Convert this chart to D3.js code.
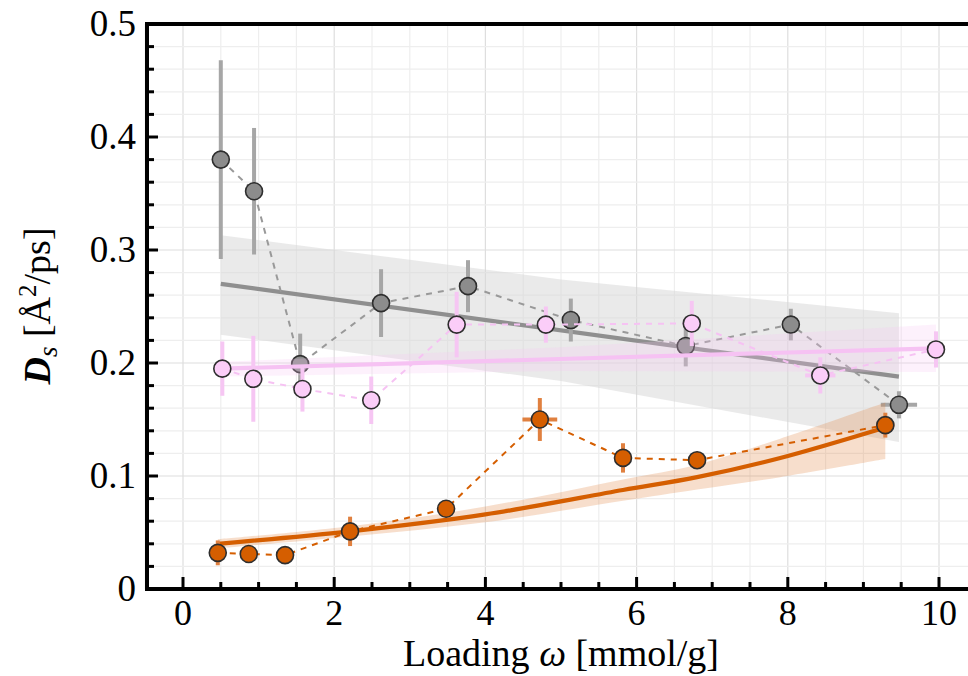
<!DOCTYPE html>
<html>
<head>
<meta charset="utf-8">
<script src="https://cdn.jsdelivr.net/npm/d3@7/dist/d3.min.js"></script>
<style>
  html, body { margin: 0; padding: 0; background: #fff; }
  svg { display: block; }
  text { font-family: "Liberation Serif", "DejaVu Serif", serif; fill: #000; }
</style>
</head>
<body>
<svg id="chart" width="968" height="676"></svg>
<script>
// ---------- data ----------
const xTicks = [0, 2, 4, 6, 8, 10];
const yTicks = [0, 0.1, 0.2, 0.3, 0.4, 0.5];
const yTickLabels = ["0", "0.1", "0.2", "0.3", "0.4", "0.5"];

// gray series
const grayX    = [0.50, 0.94, 1.55, 2.62, 3.77, 5.13, 6.65, 8.04, 9.47];
const grayY    = [0.380, 0.352, 0.199, 0.253, 0.268, 0.238, 0.215, 0.234, 0.163];
const grayYErr = [0.088, 0.056, 0.027, 0.030, 0.023, 0.019, 0.018, 0.014, 0.012];
const grayXErr = [0, 0, 0, 0, 0, 0, 0, 0, 0.24];
const grayFitX = [0.50, 9.47];
const grayFitY = [0.270, 0.188];
const grayBandX = [0.50, 5.0, 9.47];
const grayBandUpper = [0.313, 0.274, 0.244];
const grayBandLower = [0.225, 0.184, 0.130];

// pink series
const pinkX    = [0.52, 0.93, 1.58, 2.49, 3.62, 4.80, 6.73, 8.43, 9.96];
const pinkY    = [0.195, 0.186, 0.177, 0.167, 0.234, 0.234, 0.235, 0.189, 0.212];
const pinkYErr = [0.024, 0.038, 0.020, 0.021, 0.029, 0.016, 0.020, 0.016, 0.016];
const pinkXErr = [0, 0, 0, 0, 0, 0, 0, 0.20, 0];
const pinkFitX = [0.52, 9.96];
const pinkFitY = [0.195, 0.213];
const pinkBandX = [0.52, 5.0, 9.96];
const pinkBandUpper = [0.201, 0.214, 0.234];
const pinkBandLower = [0.188, 0.193, 0.192];

// orange series
const orangeX    = [0.46, 0.87, 1.35, 2.21, 3.48, 4.72, 5.82, 6.80, 9.29];
const orangeY    = [0.032, 0.031, 0.030, 0.051, 0.071, 0.150, 0.116, 0.114, 0.145];
const orangeYErr = [0.011, 0.008, 0.005, 0.013, 0.006, 0.019, 0.013, 0.007, 0.011];
const orangeXErr = [0, 0, 0, 0, 0, 0.23, 0, 0, 0.12];
const orangeFitX = [0.46, 2.21, 4.0, 5.82, 6.8, 7.9, 9.29];
const orangeFitY = [0.040, 0.051, 0.066, 0.0876, 0.099, 0.116, 0.143];
const orangeBandUpper = [0.044, 0.0555, 0.073, 0.097, 0.110, 0.133, 0.165];
const orangeBandLower = [0.036, 0.0465, 0.059, 0.078, 0.088, 0.099, 0.115];

// ---------- layout ----------
const svg = d3.select("#chart");
const x = d3.scaleLinear().domain([0, 10]).range([183, 939]);
const y = d3.scaleLinear().domain([0, 0.5]).range([589, 24]);
const pLeft = 147, pRight = 980, pTop = 24, pBottom = 589;

svg.append("defs").append("clipPath").attr("id", "clip")
  .append("rect").attr("x", pLeft).attr("y", pTop).attr("width", pRight - pLeft).attr("height", pBottom - pTop);

// grid
const grid = svg.append("g");
const xMinor = d3.range(-0.5, 10.51, 0.5);
const yMinor = d3.range(0, 0.501, 0.02);
grid.selectAll(".vx").data(xMinor).join("line")
  .attr("x1", d => x(d)).attr("x2", d => x(d)).attr("y1", pTop).attr("y2", pBottom)
  .attr("stroke", d => (Math.abs(d / 2 - Math.round(d / 2)) < 1e-6) ? "#dedede" : "#eeeeee")
  .attr("stroke-width", 1.2);
grid.selectAll(".hy").data(yMinor).join("line")
  .attr("x1", pLeft).attr("x2", pRight).attr("y1", d => y(d)).attr("y2", d => y(d))
  .attr("stroke", d => (Math.abs(d * 10 - Math.round(d * 10)) < 1e-6) ? "#dedede" : "#eeeeee")
  .attr("stroke-width", 1.2);

const plot = svg.append("g").attr("clip-path", "url(#clip)");

function drawSeries(o) {
  const g = plot.append("g");
  g.append("path")
    .datum(o.bandX.map((bx, i) => [bx, o.bandU[i], o.bandL[i]]))
    .attr("d", d3.area().x(d => x(d[0])).y0(d => y(d[2])).y1(d => y(d[1])).curve(o.curve))
    .attr("fill", o.bandColor).attr("fill-opacity", o.bandOpacity);
  g.append("path")
    .datum(o.fitX.map((fx, i) => [fx, o.fitY[i]]))
    .attr("d", d3.line().x(d => x(d[0])).y(d => y(d[1])).curve(o.curve))
    .attr("fill", "none").attr("stroke", o.fitColor).attr("stroke-width", 4.2);
  g.append("path")
    .datum(o.xs.map((v, i) => [v, o.ys[i]]))
    .attr("d", d3.line().x(d => x(d[0])).y(d => y(d[1])))
    .attr("fill", "none").attr("stroke", o.dashColor).attr("stroke-width", 2)
    .attr("stroke-dasharray", "6,6");
  const pts = o.xs.map((v, i) => ({ x: v, y: o.ys[i], ey: o.yErr[i], ex: o.xErr[i] }));
  g.selectAll(".ey").data(pts.filter(p => p.ey > 0)).join("line")
    .attr("x1", d => x(d.x)).attr("x2", d => x(d.x))
    .attr("y1", d => y(d.y - d.ey)).attr("y2", d => y(d.y + d.ey))
    .attr("stroke", o.errColor).attr("stroke-width", 4);
  g.selectAll(".ex").data(pts.filter(p => p.ex > 0)).join("line")
    .attr("x1", d => x(d.x - d.ex)).attr("x2", d => x(d.x + d.ex))
    .attr("y1", d => y(d.y)).attr("y2", d => y(d.y))
    .attr("stroke", o.errColor).attr("stroke-width", 4);
  g.selectAll(".m").data(pts).join("circle")
    .attr("cx", d => x(d.x)).attr("cy", d => y(d.y)).attr("r", 8.5)
    .attr("fill", o.markerColor).attr("stroke", "#2e2e2e").attr("stroke-width", 1.6);
}

drawSeries({
  xs: grayX, ys: grayY, yErr: grayYErr, xErr: grayXErr,
  fitX: grayFitX, fitY: grayFitY, bandX: grayBandX, bandU: grayBandUpper, bandL: grayBandLower,
  curve: d3.curveLinear,
  bandColor: "#d6d6d6", bandOpacity: 0.5, fitColor: "#8f8f8f", dashColor: "#999999",
  errColor: "#a6a6a6", markerColor: "#8c8c8c"
});
drawSeries({
  xs: pinkX, ys: pinkY, yErr: pinkYErr, xErr: pinkXErr,
  fitX: pinkFitX, fitY: pinkFitY, bandX: pinkBandX, bandU: pinkBandUpper, bandL: pinkBandLower,
  curve: d3.curveLinear,
  bandColor: "#f7c6f4", bandOpacity: 0.25, fitColor: "#f6c2f3", dashColor: "#f6c2f3",
  errColor: "#f6c6f3", markerColor: "#fbcdf8"
});
drawSeries({
  xs: orangeX, ys: orangeY, yErr: orangeYErr, xErr: orangeXErr,
  fitX: orangeFitX, fitY: orangeFitY, bandX: orangeFitX, bandU: orangeBandUpper, bandL: orangeBandLower,
  curve: d3.curveCatmullRom,
  bandColor: "#e07a33", bandOpacity: 0.25, fitColor: "#d55e00", dashColor: "#d55e00",
  errColor: "#e0803f", markerColor: "#d55e00"
});

// ---------- axes / frame ----------
const frame = svg.append("g");
frame.append("line").attr("x1", pLeft).attr("x2", pLeft).attr("y1", pTop - 2).attr("y2", pBottom + 2)
  .attr("stroke", "#000").attr("stroke-width", 4);
frame.append("line").attr("x1", pLeft - 2).attr("x2", pRight).attr("y1", pBottom).attr("y2", pBottom)
  .attr("stroke", "#000").attr("stroke-width", 4);
frame.append("line").attr("x1", pLeft - 2).attr("x2", pRight).attr("y1", pTop).attr("y2", pTop)
  .attr("stroke", "#000").attr("stroke-width", 4);

const xTickVals = d3.range(0, 10.51, 0.5);
frame.selectAll(".xt").data(xTickVals).join("line")
  .attr("x1", d => x(d)).attr("x2", d => x(d))
  .attr("y1", pBottom).attr("y2", d => pBottom - ((Math.abs(d / 2 - Math.round(d / 2)) < 1e-6) ? 12 : 7))
  .attr("stroke", "#000").attr("stroke-width", 3);
const yTickVals = d3.range(0, 0.501, 0.02);
frame.selectAll(".yt").data(yTickVals).join("line")
  .attr("x1", pLeft).attr("x2", d => pLeft + ((Math.abs(d * 10 - Math.round(d * 10)) < 1e-6) ? 11 : 7))
  .attr("y1", d => y(d)).attr("y2", d => y(d))
  .attr("stroke", "#000").attr("stroke-width", 3);

frame.selectAll(".xl").data(xTicks).join("text")
  .attr("x", d => x(d)).attr("y", 625)
  .attr("text-anchor", "middle").attr("font-size", 36)
  .text(d => d);
frame.selectAll(".yl").data(yTicks).join("text")
  .attr("x", 136).attr("y", d => y(d) + 12)
  .attr("text-anchor", "end").attr("font-size", 37)
  .text((d, i) => yTickLabels[i]);

const xt = svg.append("text").attr("x", 561).attr("y", 666)
  .attr("text-anchor", "middle").attr("font-size", 38);
xt.append("tspan").text("Loading ");
xt.append("tspan").attr("font-style", "italic").text("ω");
xt.append("tspan").text(" [mmol/g]");

const yt = svg.append("text")
  .attr("transform", "translate(50,306) rotate(-90)")
  .attr("text-anchor", "middle").attr("font-size", 38);
yt.append("tspan").attr("font-style", "italic").attr("font-weight", "bold").text("D");
yt.append("tspan").attr("font-style", "italic").attr("font-size", 27).attr("dy", 7).text("s");
yt.append("tspan").attr("dy", -7).text(" [Å");
yt.append("tspan").attr("font-size", 25).attr("dy", -14).text("2");
yt.append("tspan").attr("dy", 14).text("/ps]");
</script>
</body>
</html>
